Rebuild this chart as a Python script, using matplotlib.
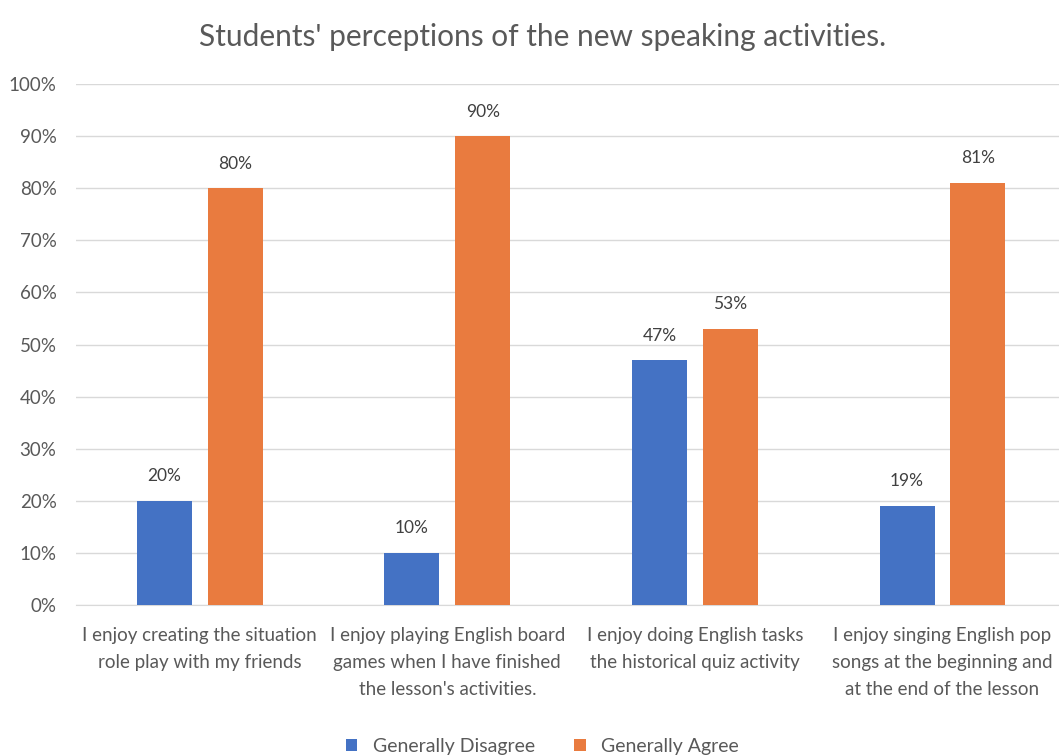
import matplotlib
matplotlib.use('Agg')
import matplotlib.pyplot as plt
import numpy as np

# chart data
categories = [
    "I enjoy creating the situation\nrole play with my friends",
    "I enjoy playing English board\ngames when I have finished\nthe lesson's activities.",
    "I enjoy doing English tasks\nthe historical quiz activity",
    "I enjoy singing English pop\nsongs at the beginning and\nat the end of the lesson",
]
disagree = [20, 10, 47, 19]
agree = [80, 90, 53, 81]
series_names = ["Generally Disagree", "Generally Agree"]
yticks = [0, 10, 20, 30, 40, 50, 60, 70, 80, 90, 100]

blue = '#4472C4'
orange = '#E97B3F'
grey_text = '#595959'

plt.rcParams['font.family'] = ['Lato', 'DejaVu Sans']

fig = plt.figure(figsize=(10.59, 7.56), dpi=100)
ax = fig.add_axes([0.0718, 0.1997, 0.935, 0.689])

x = np.arange(len(categories))
w = 0.222
off = 0.143
b1 = ax.bar(x - off, disagree, w, color=blue, label=series_names[0], zorder=3)
b2 = ax.bar(x + off, agree, w, color=orange, label=series_names[1], zorder=3)

for bars, vals in [(b1, disagree), (b2, agree)]:
    for b, v in zip(bars, vals):
        ax.annotate(f"{v}%", (b.get_x() + b.get_width() / 2, v),
                    xytext=(0, 12), textcoords='offset points',
                    ha='center', va='bottom', fontsize=12.5, color='#404040')

ax.set_xlim(-0.5, len(categories) - 0.5)
ax.set_ylim(0, 100)
ax.set_yticks(yticks)
ax.set_yticklabels([f"{t}%" for t in yticks])
ax.grid(axis='y', color='#D9D9D9', linewidth=1, zorder=0)
ax.set_xticks(x)
ax.set_xticklabels(categories, linespacing=1.7, va='top')
ax.tick_params(axis='both', length=0, labelsize=13.5, labelcolor=grey_text)
ax.tick_params(axis='y', pad=14)
ax.tick_params(axis='x', pad=16)
for s in ['top', 'right', 'left']:
    ax.spines[s].set_visible(False)
ax.spines['bottom'].set_color('#D9D9D9')

fig.suptitle("Students' perceptions of the new speaking activities.",
             x=0.512, y=0.97, fontsize=21.5, color=grey_text)

fig.legend(loc='lower center', bbox_to_anchor=(0.512, -0.022), ncol=2,
           frameon=False, fontsize=14, labelcolor=grey_text,
           handlelength=0.6, handleheight=0.6, columnspacing=2.0)

fig.savefig('out.png', dpi=100)
